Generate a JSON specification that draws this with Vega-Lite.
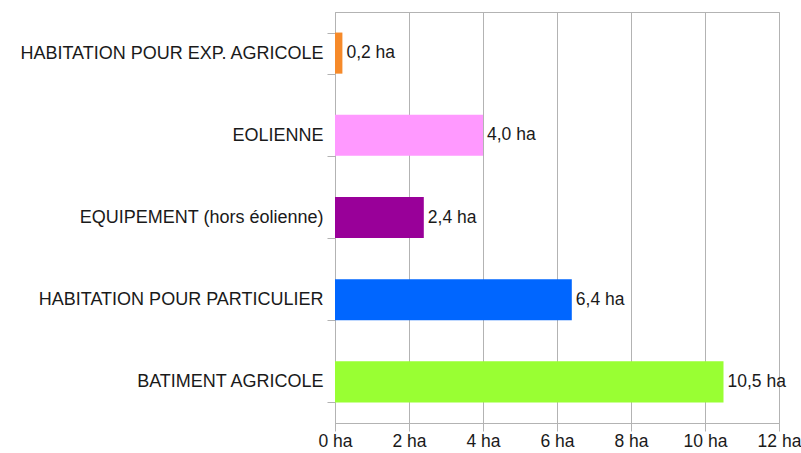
{
  "$schema": "https://vega.github.io/schema/vega-lite/v6.json",
  "autosize": "none",
  "width": 444,
  "height": 411,
  "padding": {"left": 335, "top": 12, "right": 22, "bottom": 30},
  "background": "white",
  "data": {"values": [
    {"cat": "HABITATION POUR EXP. AGRICOLE", "ha": 0.2, "label": "0,2 ha", "color": "#f68a2a"},
    {"cat": "EOLIENNE", "ha": 4.0, "label": "4,0 ha", "color": "#ff99ff"},
    {"cat": "EQUIPEMENT (hors éolienne)", "ha": 2.4, "label": "2,4 ha", "color": "#990099"},
    {"cat": "HABITATION POUR PARTICULIER", "ha": 6.4, "label": "6,4 ha", "color": "#0066ff"},
    {"cat": "BATIMENT AGRICOLE", "ha": 10.5, "label": "10,5 ha", "color": "#99ff33"}
  ]},
  "encoding": {
    "y": {"field": "cat", "type": "nominal", "sort": null,
      "scale": {"paddingInner": 0.5, "paddingOuter": 0.25},
      "axis": {"title": null, "tickBand": "extent", "tickSize": 8, "tickColor": "#b3b3b3", "domainColor": "#b3b3b3",
        "labelFont": "Liberation Sans", "labelFontSize": 18, "labelColor": "#1a1a1a", "labelPadding": 4, "labelLimit": 0, "grid": false}},
    "x": {"field": "ha", "type": "quantitative",
      "scale": {"domain": [0, 12], "nice": false},
      "axis": {"title": null, "values": [0, 2, 4, 6, 8, 10, 12], "labelExpr": "datum.value + ' ha'",
        "grid": true, "gridColor": "#b3b3b3", "tickColor": "#b3b3b3", "domainColor": "#b3b3b3", "tickSize": 8,
        "labelFont": "Liberation Sans", "labelFontSize": 17.5, "labelColor": "#1a1a1a", "labelPadding": 1, "labelFlush": false}}
  },
  "layer": [
    {"mark": {"type": "bar"}, "encoding": {"color": {"field": "color", "type": "nominal", "scale": null}}},
    {"mark": {"type": "text", "align": "left", "dx": 4, "font": "Liberation Sans", "fontSize": 17.5, "color": "#1a1a1a"},
      "encoding": {"text": {"field": "label"}}}
  ],
  "config": {"view": {"stroke": "#b3b3b3"}}
}
